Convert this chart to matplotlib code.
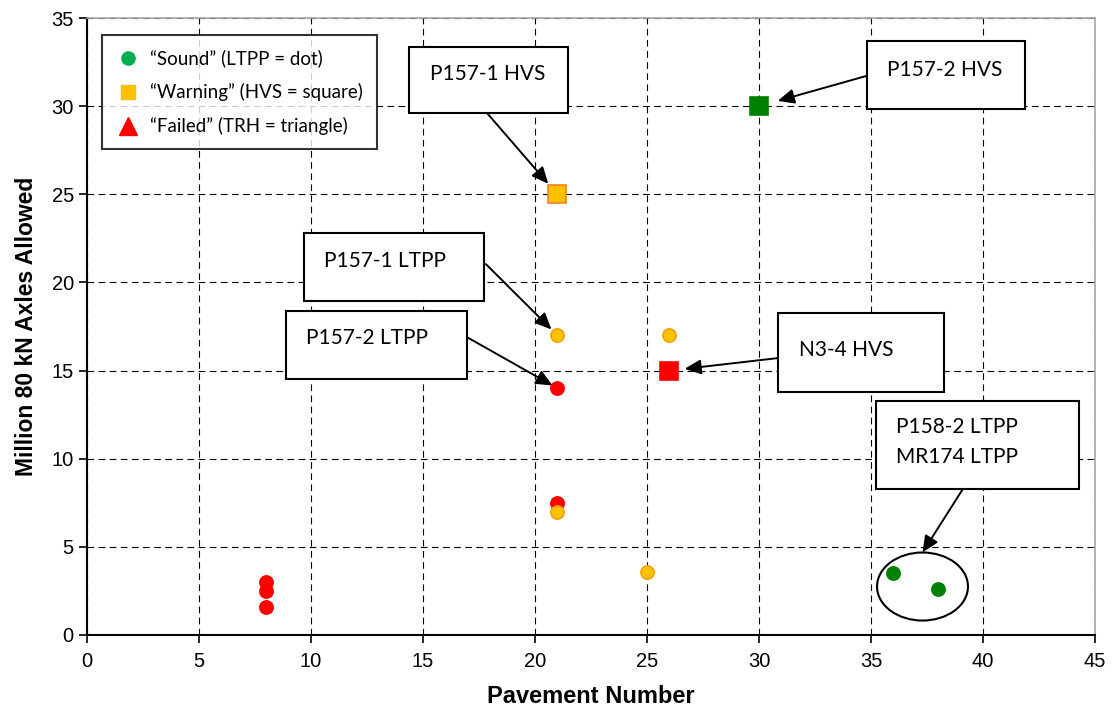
import numpy as np
import matplotlib.pyplot as plt
from matplotlib.lines import Line2D
from matplotlib.patches import Rectangle, Ellipse

# =====================================================
# DATA
# =====================================================

# LTPP dots
dot_x = [8, 8, 8, 21, 21, 21, 21, 26, 25, 36, 38]
dot_y = [3.0, 2.5, 1.6, 17.0, 14.0, 7.5, 7.0, 17.0, 3.6, 3.5, 2.6]
dot_status = ["failed", "failed", "failed", "warning", "failed", "failed",
              "warning", "warning", "warning", "sound", "sound"]

# HVS squares
sq_x = [21, 30, 26]
sq_y = [25, 30, 15]
sq_status = ["warning", "sound", "failed"]

legend_labels = [
    "\u201cSound\u201d (LTPP = dot)",
    "\u201cWarning\u201d (HVS = square)",
    "\u201cFailed\u201d (TRH = triangle)",
]

# callout boxes: text, box (x0, y0, x1, y1), text position, arrow start, arrow target
callouts = [
    ("P157-1 HVS", (14.38, 29.61, 21.47, 33.35), (17.9, 31.85), (17.86, 29.61), (21, 25), 10),
    ("P157-2 HVS", (34.82, 29.83, 41.88, 33.69), (38.3, 32.05), (34.78, 31.71), (30, 30), 14),
    ("P157-1 LTPP", (9.69, 18.94, 17.72, 22.80), (13.3, 21.2), (17.81, 21.04), (21, 17), 6),
    ("P157-2 LTPP", (8.88, 14.52, 16.96, 18.38), (12.5, 16.85), (16.96, 16.90), (21, 14), 4),
    ("N3-4 HVS", (30.85, 13.78, 38.26, 18.26), (33.9, 16.15), (30.85, 15.71), (26, 15), 11),
]

group_box = (35.22, 8.28, 44.29, 13.27)
group_lines = ["P158-2 LTPP", "MR174 LTPP"]
group_ellipse = (37.3, 2.75, 4.06, 3.86)

# =====================================================
# STYLE
# =====================================================

face = {"sound": "#008000", "warning": "#FFC000", "failed": "#FF0000"}
edge = {"sound": "#008000", "warning": "#F5A300", "failed": "#FF0000"}
sq_edge = {"sound": "#008000", "warning": "#F58220", "failed": "#FF0000"}

plt.rcParams["font.family"] = ["Liberation Sans", "DejaVu Sans"]
callout_font = ["Lato", "DejaVu Sans"]

fig = plt.figure(figsize=(11.12, 7.22), dpi=100)
ax = fig.add_axes([0.0782, 0.1205, 0.9065, 0.8545])

ax.set_xlim(0, 45)
ax.set_ylim(0, 35)
ax.set_xticks(np.arange(0, 46, 5))
ax.set_yticks(np.arange(0, 36, 5))

ax.grid(True, color="black", linestyle=(0, (6, 4)), linewidth=0.8)
ax.set_axisbelow(True)

for s in ["top", "right"]:
    ax.spines[s].set_color("#a6a6a6")
    ax.spines[s].set_linewidth(1.2)
for s in ["left", "bottom"]:
    ax.spines[s].set_linewidth(1.5)

ax.tick_params(direction="out", length=6, width=1.2, labelsize=14.5)
ax.tick_params(axis="x", pad=6)

# =====================================================
# POINTS
# =====================================================

for x, y, st in zip(dot_x, dot_y, dot_status):
    ax.plot(x, y, "o", markersize=9.5, markerfacecolor=face[st],
            markeredgecolor=edge[st], markeredgewidth=1.2, zorder=4)

for x, y, st in zip(sq_x, sq_y, sq_status):
    ax.plot(x, y, "s", markersize=12.5, markerfacecolor=face[st],
            markeredgecolor=sq_edge[st], markeredgewidth=1.2, zorder=4)

# =====================================================
# CALLOUTS
# =====================================================

for text, box, tpos, start, target, shrink in callouts:
    x0, y0, x1, y1 = box
    ax.add_patch(Rectangle((x0, y0), x1 - x0, y1 - y0, facecolor="white",
                           edgecolor="black", linewidth=1.5, zorder=5))
    ax.text(tpos[0], tpos[1], text, ha="center", va="center", fontsize=15,
            family=callout_font, zorder=6)
    ax.annotate("", xy=target, xytext=start,
                arrowprops=dict(arrowstyle="-|>,head_length=1.0,head_width=0.45",
                                color="black", lw=1.4, shrinkA=0, shrinkB=shrink),
                zorder=6)

x0, y0, x1, y1 = group_box
ax.add_patch(Rectangle((x0, y0), x1 - x0, y1 - y0, facecolor="white",
                       edgecolor="black", linewidth=1.5, zorder=5))
ax.text(36.1, 11.8, group_lines[0], ha="left", va="center", fontsize=15,
        family=callout_font, zorder=6)
ax.text(36.1, 10.1, group_lines[1], ha="left", va="center", fontsize=15,
        family=callout_font, zorder=6)

ex, ey, ew, eh = group_ellipse
ax.add_patch(Ellipse((ex, ey), ew, eh, facecolor="none", edgecolor="black",
                     linewidth=1.5, zorder=3))
ax.annotate("", xy=(ex, ey + eh / 2), xytext=(39.1, y0),
            arrowprops=dict(arrowstyle="-|>,head_length=1.0,head_width=0.45",
                            color="black", lw=1.4, shrinkA=0, shrinkB=0),
            zorder=6)

# =====================================================
# LEGEND
# =====================================================

handles = [
    Line2D([], [], marker="o", linestyle="none", markersize=9.5,
           markerfacecolor="#00B050", markeredgecolor="#00B050"),
    Line2D([], [], marker="s", linestyle="none", markersize=10,
           markerfacecolor="#FFC000", markeredgecolor="#FFC000"),
    Line2D([], [], marker="^", linestyle="none", markersize=13,
           markerfacecolor="#FF0000", markeredgecolor="#FF0000"),
]

leg = ax.legend(handles, legend_labels, loc="upper left",
                bbox_to_anchor=(0.0149, 0.972), borderaxespad=0,
                frameon=True, fancybox=False,
                prop={"family": callout_font, "size": 13.5},
                handletextpad=0.5, labelspacing=0.85, borderpad=0.75,
                handlelength=1.3)
leg.get_frame().set_edgecolor("black")
leg.get_frame().set_linewidth(1.5)
leg.set_zorder(7)

# =====================================================
# LABELS
# =====================================================

ax.set_xlabel("Pavement Number", fontsize=17, fontweight="bold", labelpad=10)
ax.set_ylabel("Million 80 kN Axles Allowed", fontsize=16.5, fontweight="bold",
              labelpad=10)

fig.savefig("out.png", dpi=100)
